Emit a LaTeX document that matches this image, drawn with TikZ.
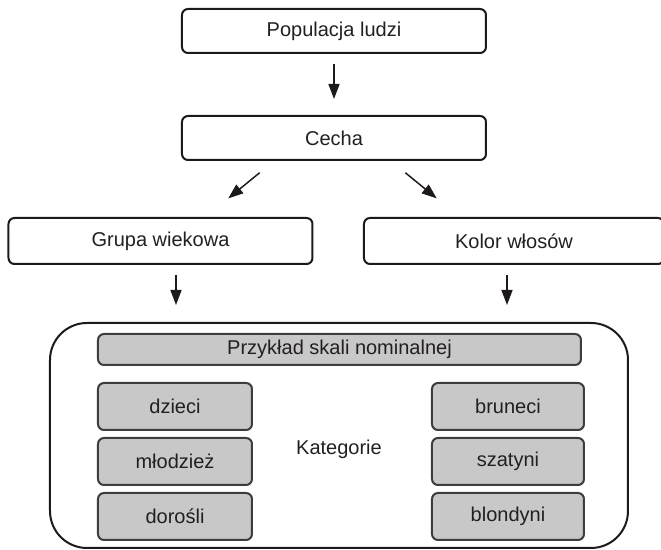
\documentclass[tikz,border=0pt]{standalone}
\usepackage{fontspec}
\setmainfont{Liberation Sans}
\definecolor{boxedge}{HTML}{1E1A1B}
\definecolor{catfill}{HTML}{C8C8C8}
\definecolor{labeltext}{HTML}{231F20}
\usetikzlibrary{arrows.meta}

\begin{document}
\begin{tikzpicture}[
  x=0.5pt,y=-0.5pt,
  line join=round,
  font=\fontsize{10}{12}\selectfont,
  stagebox/.style={draw=boxedge,line width=1pt,rounded corners=3pt,inner sep=0pt,text=labeltext,minimum width=152pt,minimum height=22pt},
  scalebox/.style={draw=boxedge,line width=1pt,rounded corners=18.5pt,inner sep=0pt,minimum width=289pt,minimum height=112.5pt},
  catbox/.style={draw=boxedge!85,fill=catfill,line width=1pt,rounded corners=3pt,inner sep=0pt,text=labeltext,minimum height=23.5pt},
  flowarrow/.style={draw=boxedge,line width=0.75pt,-{Triangle[length=7.5pt,width=5.5pt]}},
  catlabel/.style={text=labeltext}
]
  \useasboundingbox (0,0) rectangle (661,550);

  % top chain
  \node[stagebox] (pop) at (334,31) {Populacja ludzi};
  \node[stagebox] (cecha) at (334,138) {Cecha};
  \node[stagebox,minimum height=23pt] (grupa) at (160.5,241) {Grupa wiekowa};
  \node[stagebox,minimum height=23pt,minimum width=150pt] (kolor) at (514,241) {Kolor włosów};

  % nominal scale block
  \node[scalebox] (skala) at (339,435.5) {};
  \node[catbox,minimum width=241.5pt,minimum height=15.5pt] (tytul) at (339.5,349.5) {Przykład skali nominalnej};

  \node[catbox,minimum width=77pt] (dzieci) at (175,406.5) {dzieci};
  \node[catbox,minimum width=77pt] (mlodziez) at (175,461.5) {młodzież};
  \node[catbox,minimum width=77pt] (dorosli) at (175,516.5) {dorośli};

  \node[catbox,minimum width=76pt] (bruneci) at (508,406.5) {bruneci};
  \node[catbox,minimum width=76pt] (szatyni) at (508,461.5) {szatyni};
  \node[catbox,minimum width=76pt] (blondyni) at (508,516.5) {blondyni};

  \node[catlabel] (kat) at (339,449) {Kategorie};

  % arrows
  \coordinate (CL) at ([xshift=-30pt]cecha.south);
  \coordinate (GL) at ([xshift=22.5pt]grupa.north);
  \coordinate (CR) at ([xshift=28.5pt]cecha.south);
  \coordinate (KR) at ([xshift=-27.25pt]kolor.north);
  \coordinate (gx) at (176,0);
  \coordinate (kx) at (507,0);

  \draw[flowarrow,shorten <=5pt,shorten >=8pt] (pop) -- (cecha);
  \draw[flowarrow,shorten <=9.3pt,shorten >=14.7pt] (CL) -- (GL);
  \draw[flowarrow,shorten <=9.3pt,shorten >=14.7pt] (CR) -- (KR);
  \draw[flowarrow,shorten <=5pt,shorten >=8.5pt] (grupa.south -| gx) -- (skala.north -| gx);
  \draw[flowarrow,shorten <=5pt,shorten >=8.5pt] (kolor.south -| kx) -- (skala.north -| kx);
\end{tikzpicture}
\end{document}
